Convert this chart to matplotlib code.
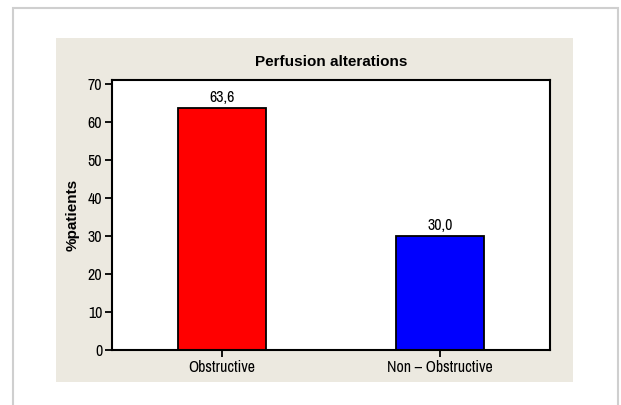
import matplotlib.pyplot as plt
from matplotlib.patches import Rectangle

# =========================
# DATA
# =========================
categories = ["Obstructive", "Non \u2013 Obstructive"]
values = [63.6, 30.0]
bar_colors = ["#ff0000", "#0000ff"]
yticks = [0, 10, 20, 30, 40, 50, 60, 70]

plt.rcParams["font.family"] = ["Archivo Narrow", "Liberation Sans", "DejaVu Sans"]

W, H = 621, 405
fig = plt.figure(figsize=(W / 100, H / 100), dpi=100)

# outer light border (open at the bottom)
fig.patches.append(Rectangle((13 / W, -0.1), 605 / W, 1.1 - 8 / H,
                             transform=fig.transFigure, facecolor="white",
                             edgecolor="#cfcfcf", linewidth=1.5, zorder=-2))
# beige panel
fig.patches.append(Rectangle((56 / W, 1 - 382 / H), 517 / W, 344 / H,
                             transform=fig.transFigure, facecolor="#ece9e0",
                             edgecolor="none", zorder=-1))

ax = fig.add_axes([112 / W, 1 - 350 / H, 438 / W, 270 / H])
ax.set_zorder(5)
ax.set_facecolor("white")

x = range(len(categories))
bars = ax.bar(x, values, width=0.404, color=bar_colors, edgecolor="black", linewidth=1.3)

for bar, v in zip(bars, values):
    ax.text(bar.get_x() + bar.get_width() / 2, v + 0.9, f"{v:.1f}".replace(".", ","),
            ha="center", va="bottom", fontsize=11.5)

ax.set_xlim(-0.505, 1.505)
ax.set_ylim(0, 71.1)
ax.set_yticks(yticks)
ax.set_xticks(list(x))
ax.set_xticklabels(categories)
ax.tick_params(axis="both", direction="out", length=5, width=1.3, labelsize=11.5, pad=2)

for s in ax.spines.values():
    s.set_linewidth(1.5)
    s.set_color("black")

ax.set_title("Perfusion alterations", fontsize=11, fontweight="bold",
             family=["Liberation Sans", "DejaVu Sans"], pad=10)
ax.set_ylabel("%patients", fontsize=11, fontweight="bold",
              family=["Liberation Sans", "DejaVu Sans"], labelpad=6)

fig.savefig("out.png", dpi=100)
